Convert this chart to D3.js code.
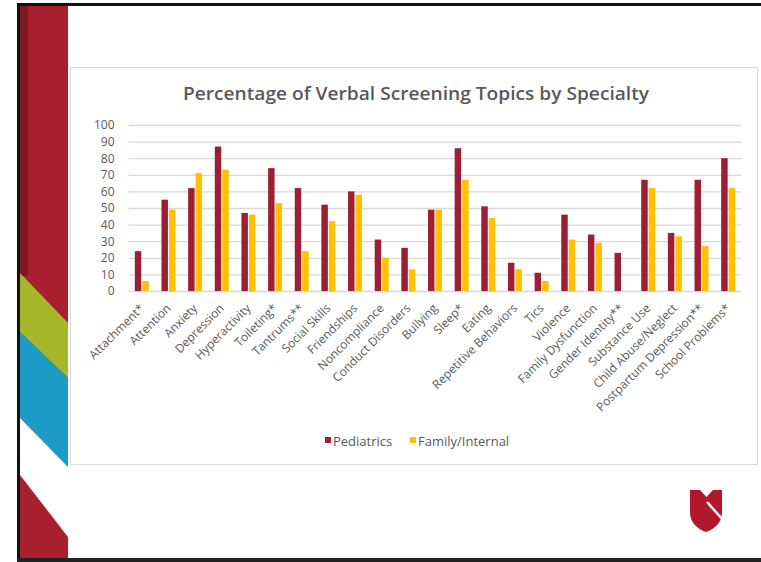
<!DOCTYPE html>
<html>
<head>
<meta charset="utf-8">
<script src="https://cdnjs.cloudflare.com/ajax/libs/d3/7.8.5/d3.min.js"></script>
<style>
    body { margin: 0; background: #ffffff; }
    svg { display: block; }
</style>
</head>
<body>
<div id="chart"></div>
<script>

var categories = ["Attachment*", "Attention", "Anxiety", "Depression", "Hyperactivity", "Toileting*",
    "Tantrums**", "Social Skills", "Friendships", "Noncompliance", "Conduct Disorders", "Bullying",
    "Sleep*", "Eating", "Repetitive Behaviors", "Tics", "Violence", "Family Dysfunction",
    "Gender Identity**", "Substance Use", "Child Abuse/Neglect", "Postpartum Depression**", "School Problems*"];
var pediatrics = [24, 55, 62, 87, 47, 74, 62, 52, 60, 31, 26, 49, 86, 51, 17, 11, 46, 34, 23, 67, 35, 67, 80];
var familyInternal = [6, 49, 71, 73, 46, 53, 24, 42, 58, 20, 13, 49, 67, 44, 13, 6, 31, 29, null, 62, 33, 27, 62];
var seriesNames = ["Pediatrics", "Family/Internal"];
var yTicks = [0, 10, 20, 30, 40, 50, 60, 70, 80, 90, 100];

function drawChart(width, height) {
    var svg = d3.select("#chart").append("svg")
        .attr("width", width)
        .attr("height", height);

    var red = "#9e1f33";
    var yellow = "#ffc000";
    var grey = "#595959";
    var colors = [red, yellow];

    // slide frame
    svg.append("rect").attr("x", 17).attr("y", 3).attr("width", 744).attr("height", 3).attr("fill", "#111");
    svg.append("rect").attr("x", 17).attr("y", 3).attr("width", 3).attr("height", 559).attr("fill", "#111");
    svg.append("rect").attr("x", 17).attr("y", 558).attr("width", 744).attr("height", 4).attr("fill", "#222");

    // left decorative strip
    svg.append("rect").attr("x", 20).attr("y", 6).attr("width", 48).attr("height", 552).attr("fill", "#a91f2e");
    svg.append("rect").attr("x", 20).attr("y", 6).attr("width", 8).attr("height", 270).attr("fill", "#7c1824");
    var bands = [
        { fill: "#a5b82a", pts: [[20, 273], [68, 323], [68, 378], [20, 332]] },
        { fill: "#1b9dc6", pts: [[20, 332], [68, 378], [68, 467], [20, 418]] },
        { fill: "#ffffff", pts: [[20, 418], [68, 467], [68, 537], [20, 475]] }
    ];
    svg.selectAll(".band")
        .data(bands)
        .enter().append("polygon")
        .attr("class", "band")
        .attr("points", function (d) { return d.pts.map(function (p) { return p.join(","); }).join(" "); })
        .attr("fill", function (d) { return d.fill; });

    // chart box
    svg.append("rect")
        .attr("x", 70.5).attr("y", 67.5).attr("width", 687).attr("height", 397)
        .attr("fill", "#ffffff").attr("stroke", "#d9d9d9");

    svg.append("text")
        .attr("x", 416).attr("y", 100)
        .attr("text-anchor", "middle")
        .attr("textLength", 466)
        .attr("lengthAdjust", "spacingAndGlyphs")
        .style("font-family", "'Open Sans', sans-serif")
        .style("font-weight", 600)
        .style("font-size", "18px")
        .style("fill", grey)
        .text("Percentage of Verbal Screening Topics by Specialty");

    var x0 = d3.scaleBand()
        .domain(categories)
        .range([128.5, 741.5]);

    var x1 = d3.scaleBand()
        .domain(seriesNames)
        .range([x0.bandwidth() / 2 - 7, x0.bandwidth() / 2 + 7])
        .paddingInner(0.14);

    var y = d3.scaleLinear()
        .domain([0, 100])
        .range([291, 125]);

    var yAxis = svg.append("g")
        .attr("transform", "translate(128.5,0)")
        .call(d3.axisLeft(y).tickValues(yTicks).tickSize(-613).tickPadding(14));
    yAxis.select(".domain").remove();
    yAxis.selectAll(".tick line").attr("stroke", "#d9d9d9").attr("stroke-width", 1.3);
    yAxis.selectAll(".tick text")
        .style("font-family", "'Open Sans', sans-serif")
        .style("font-size", "12px")
        .style("fill", grey);

    var rows = categories.map(function (c, i) {
        return { name: c, values: [pediatrics[i], familyInternal[i]] };
    });

    var group = svg.selectAll(".cat")
        .data(rows)
        .enter().append("g")
        .attr("class", "cat")
        .attr("transform", function (d) { return "translate(" + x0(d.name) + ",0)"; });

    group.selectAll("rect")
        .data(function (d) {
            return d.values.map(function (v, k) { return { series: seriesNames[k], value: v, k: k }; })
                .filter(function (b) { return b.value != null; });
        })
        .enter().append("rect")
        .attr("x", function (d) { return x1(d.series); })
        .attr("width", x1.bandwidth())
        .attr("y", function (d) { return y(d.value); })
        .attr("height", function (d) { return y(0) - y(d.value); })
        .attr("fill", function (d) { return colors[d.k]; });

    svg.selectAll(".xlabel")
        .data(categories)
        .enter().append("text")
        .attr("class", "xlabel")
        .attr("text-anchor", "end")
        .attr("transform", function (d) {
            return "translate(" + (x0(d) + x0.bandwidth() / 2 + 3) + ",309) rotate(-45)";
        })
        .style("font-family", "'Open Sans', sans-serif")
        .style("font-size", "12px")
        .style("fill", grey)
        .text(function (d) { return d; });

    // legend
    var legendX = [325, 410];
    var legend = svg.selectAll(".legend")
        .data(seriesNames)
        .enter().append("g")
        .attr("class", "legend")
        .attr("transform", function (d, i) { return "translate(" + legendX[i] + ",437)"; });
    legend.append("rect")
        .attr("width", 6).attr("height", 6)
        .attr("fill", function (d, i) { return colors[i]; });
    legend.append("text")
        .attr("x", 8).attr("y", 9)
        .style("font-family", "'Open Sans', sans-serif")
        .style("font-size", "13px")
        .style("fill", grey)
        .text(function (d) { return d; });

    // university shield
    var logo = svg.append("g");
    logo.append("path")
        .attr("d", "M690,490 L700,490 L706.5,497 L713,490 L722,490 L722,512 Q722,526 706,532 Q690,526 690,512 Z")
        .attr("fill", "#b2172b");
    logo.append("line")
        .attr("x1", 707).attr("y1", 502).attr("x2", 724).attr("y2", 521)
        .attr("stroke", "#ffffff").attr("stroke-width", 2.5);
}

drawChart(761, 562);
</script>
</body>
</html>
